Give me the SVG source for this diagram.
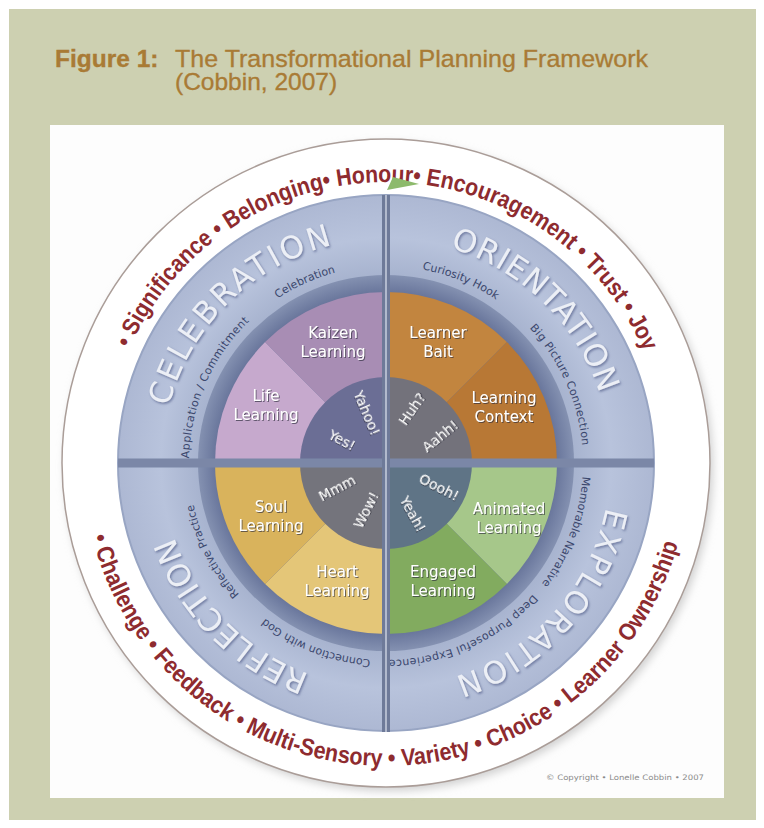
<svg xmlns="http://www.w3.org/2000/svg" xmlns:xlink="http://www.w3.org/1999/xlink" width="764" height="828" viewBox="0 0 764 828">
  <style>
    .title { font-family: "Liberation Sans", Arial, sans-serif; font-size: 24.5px; fill: #a97b35; stroke: #a97b35; stroke-width: 0.35px; }
    .motto { font-family: "Liberation Sans", Arial, sans-serif; font-weight: bold; font-size: 24px; fill: #8e2b2f; }
    .big { font-family: "DejaVu Sans", sans-serif; font-size: 31px; fill: #eceff6; filter: url(#emboss); }
    .small { font-family: "DejaVu Sans", sans-serif; font-size: 11px; fill: #3b476d; }
    .lbl { font-family: "DejaVu Sans", sans-serif; font-size: 15px; fill: #ffffff; text-anchor: middle; filter: url(#txtShadow); }
    .ex { font-family: "DejaVu Sans", sans-serif; font-size: 14px; fill: #ffffff; text-anchor: middle; filter: url(#txtShadow); }
    .copy { font-family: "DejaVu Sans", sans-serif; font-size: 7.5px; fill: #8a8a8a; }
  </style>
  <defs>
    <filter id="txtShadow" x="-20%" y="-30%" width="140%" height="160%">
      <feDropShadow dx="1" dy="1" stdDeviation="0.7" flood-color="#2a2a3a" flood-opacity="0.65"/>
    </filter>
    <filter id="emboss" x="-10%" y="-10%" width="120%" height="120%">
      <feDropShadow dx="1.2" dy="1.5" stdDeviation="1" flood-color="#5a6690" flood-opacity="0.8"/>
    </filter>
    <filter id="soft" x="-10%" y="-10%" width="120%" height="120%">
      <feGaussianBlur stdDeviation="4"/>
    </filter>
    <radialGradient id="ringGrad" gradientUnits="userSpaceOnUse" cx="386" cy="463" r="268">
      <stop offset="0.68" stop-color="#a5b1cd"/>
      <stop offset="0.84" stop-color="#b8c3dc"/>
      <stop offset="1" stop-color="#adb8d3"/>
    </radialGradient>
    <radialGradient id="bandGrad" gradientUnits="userSpaceOnUse" cx="386" cy="463" r="188">
      <stop offset="0.9" stop-color="#67749a"/>
      <stop offset="1" stop-color="#8491b1"/>
    </radialGradient>
    <!-- text baselines: clockwise circles starting at the bottom point -->
    <path id="arcTop" d="M386,744 A281,281 0 0 1 386,182 A281,281 0 0 1 386,744"/>
    <path id="arcBig" d="M386,687.5 A224.5,224.5 0 0 1 386,238.5 A224.5,224.5 0 0 1 386,687.5"/>
    <path id="arcSmall" d="M386,660 A197,197 0 0 1 386,266 A197,197 0 0 1 386,660"/>
    <!-- counter-clockwise circle starting at the top point, for upright lower text -->
    <path id="arcBottom" d="M386,160 A303,303 0 0 0 386,766 A303,303 0 0 0 386,160"/>
  </defs>

  <!-- page -->
  <rect x="0" y="0" width="764" height="828" fill="#ffffff"/>
  <rect x="9" y="9" width="747" height="811" fill="#cdd0b1"/>

  <g id="title">
    <text class="title" x="55" y="67" font-weight="bold">Figure 1:</text>
    <text class="title" x="175" y="67" textLength="473" lengthAdjust="spacingAndGlyphs">The Transformational Planning Framework</text>
    <text class="title" x="175" y="90">(Cobbin, 2007)</text>
  </g>

  <rect x="50" y="125" width="674" height="673" fill="#fdfdfd"/>

  <!-- outer disc -->
  <g id="outer-ring">
    <circle cx="389" cy="467" r="324" fill="#d0d0d0" filter="url(#soft)"/>
    <circle cx="386" cy="463" r="324" fill="#ffffff" stroke="#aa9d98" stroke-width="1.5"/>
    <circle cx="386" cy="463" r="268" fill="url(#ringGrad)" stroke="#98a5c3" stroke-width="2"/>
    <circle cx="386" cy="463" r="188" fill="url(#bandGrad)"/>
  </g>

  <g id="motto">
    <text class="motto"><textPath xlink:href="#arcTop" startOffset="50.1%" text-anchor="middle" textLength="650" lengthAdjust="spacingAndGlyphs">• Significance • Belonging• Honour• Encouragement • Trust • Joy</textPath></text>
    <text class="motto"><textPath xlink:href="#arcBottom" startOffset="49.8%" text-anchor="middle" textLength="796" lengthAdjust="spacingAndGlyphs">• Challenge • Feedback • Multi-Sensory • Variety • Choice • Learner Ownership</textPath></text>
  </g>

  <g id="celebration">
    <path d="M386,463 L215,463 A171,171 0 0 1 265.1,342.1 Z" fill="#c6a9cd"/>
    <path d="M386,463 L265.1,342.1 A171,171 0 0 1 386,292 Z" fill="#a88db4"/>
    <path d="M386,463 L300,463 A86,86 0 0 1 386,377 Z" fill="#6b6e95"/>
    <text class="big"><textPath xlink:href="#arcBig" startOffset="37.6%" text-anchor="middle" textLength="241">CELEBRATION</textPath></text>
    <text class="small"><textPath xlink:href="#arcSmall" startOffset="43.3%" text-anchor="middle">Celebration</textPath></text>
    <text class="small" letter-spacing="0.4"><textPath xlink:href="#arcSmall" startOffset="31.6%" text-anchor="middle">Application / Commitment</textPath></text>
    <text class="lbl" x="333" y="338">Kaizen</text>
    <text class="lbl" x="333" y="357">Learning</text>
    <text class="lbl" x="266" y="401">Life</text>
    <text class="lbl" x="266" y="420">Learning</text>
    <text class="ex" transform="translate(367,413) rotate(67)" y="5">Yahoo!</text>
    <text class="ex" transform="translate(342,440) rotate(28)" y="5">Yes!</text>
  </g>

  <g id="orientation">
    <path d="M386,463 L386,292 A171,171 0 0 1 506.9,342.1 Z" fill="#c2853f"/>
    <path d="M386,463 L506.9,342.1 A171,171 0 0 1 557,463 Z" fill="#b87835"/>
    <path d="M386,463 L386,377 A86,86 0 0 1 472,463 Z" fill="#73727b"/>
    <text class="big"><textPath xlink:href="#arcBig" startOffset="62.3%" text-anchor="middle" textLength="217">ORIENTATION</textPath></text>
    <text class="small"><textPath xlink:href="#arcSmall" startOffset="56.2%" text-anchor="middle">Curiosity Hook</textPath></text>
    <text class="small" letter-spacing="0.3"><textPath xlink:href="#arcSmall" startOffset="68.3%" text-anchor="middle">Big Picture Connection</textPath></text>
    <text class="lbl" x="438" y="338">Learner</text>
    <text class="lbl" x="438" y="357">Bait</text>
    <text class="lbl" x="504" y="403">Learning</text>
    <text class="lbl" x="504" y="422">Context</text>
    <text class="ex" transform="translate(412,409) rotate(-55)" y="5">Huh?</text>
    <text class="ex" transform="translate(440,436) rotate(-39)" y="5">Aahh!</text>
  </g>

  <g id="reflection">
    <path d="M386,463 L386,634 A171,171 0 0 1 265.1,583.9 Z" fill="#e4c678"/>
    <path d="M386,463 L265.1,583.9 A171,171 0 0 1 215,463 Z" fill="#d9b35c"/>
    <path d="M386,463 L386,549 A86,86 0 0 1 300,463 Z" fill="#74747c"/>
    <text class="big"><textPath xlink:href="#arcBig" startOffset="12.6%" text-anchor="middle" textLength="199">REFLECTION</textPath></text>
    <text class="small"><textPath xlink:href="#arcSmall" startOffset="5.9%" text-anchor="middle">Connection with God</textPath></text>
    <text class="small"><textPath xlink:href="#arcSmall" startOffset="17.5%" text-anchor="middle">Reflective Practice</textPath></text>
    <text class="lbl" x="271" y="512">Soul</text>
    <text class="lbl" x="271" y="531">Learning</text>
    <text class="lbl" x="337" y="577">Heart</text>
    <text class="lbl" x="337" y="596">Learning</text>
    <text class="ex" transform="translate(337,488) rotate(-28)" y="5">Mmm</text>
    <text class="ex" transform="translate(366,510) rotate(-63)" y="5">Wow!</text>
  </g>

  <g id="exploration">
    <path d="M386,463 L557,463 A171,171 0 0 1 506.9,583.9 Z" fill="#a6c78a"/>
    <path d="M386,463 L506.9,583.9 A171,171 0 0 1 386,634 Z" fill="#82ab5f"/>
    <path d="M386,463 L472,463 A86,86 0 0 1 386,549 Z" fill="#5f7486"/>
    <text class="big"><textPath xlink:href="#arcBig" startOffset="86.6%" text-anchor="middle" textLength="238">EXPLORATION</textPath></text>
    <text class="small"><textPath xlink:href="#arcSmall" startOffset="80.8%" text-anchor="middle">Memorable Narrative</textPath></text>
    <text class="small" letter-spacing="0.3"><textPath xlink:href="#arcSmall" startOffset="93.2%" text-anchor="middle">Deep Purposeful Experience</textPath></text>
    <text class="lbl" x="509" y="514">Animated</text>
    <text class="lbl" x="509" y="533">Learning</text>
    <text class="lbl" x="443" y="577">Engaged</text>
    <text class="lbl" x="443" y="596">Learning</text>
    <text class="ex" transform="translate(439,487) rotate(27)" y="5">Oooh!</text>
    <text class="ex" transform="translate(413,514) rotate(61)" y="5">Yeah!</text>
  </g>

  <g id="connectors">
    <rect x="118" y="458.5" width="536" height="9" fill="#7b87a7"/>
    <rect x="382" y="195" width="8" height="537" fill="#6e7a99"/>
    <line x1="386" y1="195" x2="386" y2="732" stroke="#dfe5f0" stroke-width="1.2"/>
    <polygon points="387,190 393,177 419,184" fill="#8dba6c"/>
  </g>

  <text class="copy" x="546" y="780" textLength="158" lengthAdjust="spacingAndGlyphs">© Copyright • Lonelle Cobbin • 2007</text>
</svg>
